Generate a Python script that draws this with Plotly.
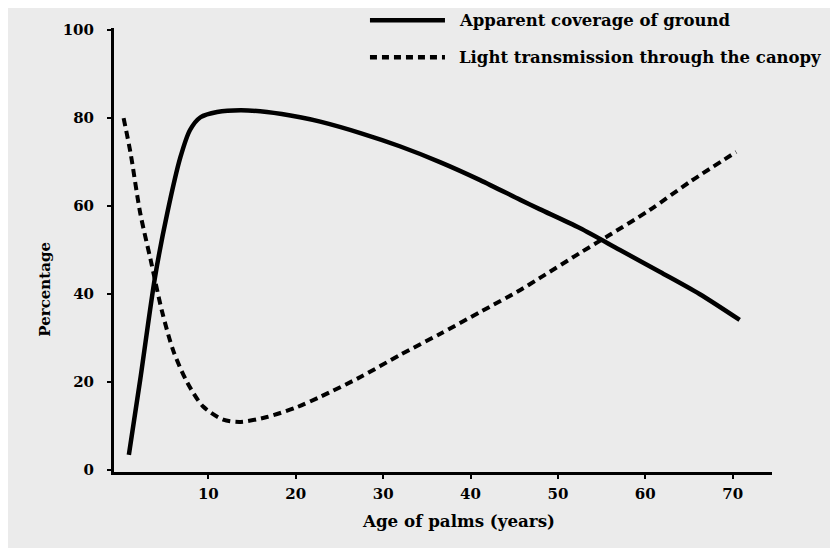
import plotly.graph_objects as go

# Data
coverage_age = [0.9, 2.2, 3.9, 5.3, 6.8, 7.9, 9.1, 11.0, 13.7, 16.7, 20.5, 22.8, 27.4, 31.9,
                36.5, 41.1, 45.7, 47.9, 52.5, 57.1, 61.7, 66.2, 70.8]
coverage = [3.4, 20.5, 43.9, 58.4, 71.1, 77.3, 80.2, 81.4, 81.8, 81.4, 80.2, 79.2, 76.6, 73.6,
            70.0, 65.9, 61.4, 59.3, 55.0, 50.0, 45.0, 40.0, 34.1]

transmission_age = [0.3, 1.1, 2.2, 3.4, 4.7, 6.0, 7.6, 9.4, 11.7, 13.7, 16.7, 20.2, 22.8, 27.4,
                    31.9, 36.5, 41.1, 45.7, 47.9, 52.5, 55.9, 60.5, 65.1, 70.4]
transmission = [80, 72, 58.4, 47.7, 36.0, 27.0, 19.8, 14.4, 11.4, 10.9, 12.0, 14.3, 16.6, 21.1,
                26.1, 30.9, 35.9, 40.9, 43.6, 49.3, 53.4, 59.1, 65.5, 72.3]

x_ticks = [10, 20, 30, 40, 50, 60, 70]
y_ticks = [0, 20, 40, 60, 80, 100]

series_names = ["Apparent coverage of ground", "Light transmission through the canopy"]
x_title = "Age of palms (years)"
y_title = "Percentage"

FONT = "DejaVu Serif"
BG = "#ebebeb"

fig = go.Figure()
fig.add_trace(go.Scatter(x=coverage_age, y=coverage, mode="lines", name=series_names[0],
                         line=dict(color="black", width=4.5, shape="spline", smoothing=0.8),
                         showlegend=False))
fig.add_trace(go.Scatter(x=transmission_age, y=transmission, mode="lines", name=series_names[1],
                         line=dict(color="black", width=4, dash="8px,5px", shape="spline", smoothing=0.8),
                         showlegend=False))

# Manual legend (line samples + labels)
legend_y = [1.0176, 0.934]
dashes = ["solid", "7px,5px"]
for yy, d, name in zip(legend_y, dashes, series_names):
    fig.add_shape(type="line", xref="paper", yref="paper", x0=0.389, x1=0.503, y0=yy, y1=yy,
                  line=dict(color="black", width=4.5, dash=d))
    fig.add_annotation(xref="paper", yref="paper", x=0.521, y=yy, text=name, showarrow=False,
                       xanchor="left", yanchor="middle",
                       font=dict(family=FONT, size=16.5, color="black", weight="bold"))

# axis titles placed as in the reference
fig.add_annotation(xref="paper", yref="paper", x=0.524, y=-0.11, text=x_title, showarrow=False,
                   xanchor="center", yanchor="middle",
                   font=dict(family=FONT, size=16.7, color="black", weight="bold"))
fig.add_annotation(xref="paper", yref="paper", x=-0.104, y=0.412, text=y_title, showarrow=False,
                   xanchor="center", yanchor="middle", textangle=-90,
                   font=dict(family=FONT, size=15, color="black", weight="bold"))

fig.update_layout(
    width=838, height=548,
    margin=dict(l=105.5, r=73.6, t=19.8, b=83.8, autoexpand=False),
    paper_bgcolor=BG, plot_bgcolor=BG,
    font=dict(family=FONT, color="black"),
    xaxis=dict(range=[-0.8, 74.5], tickvals=x_ticks, ticks="outside", ticklen=4, tickwidth=2,
               tickcolor="black", showline=True, linecolor="black", linewidth=3, showgrid=False,
               zeroline=False, ticklabelstandoff=2, automargin=False,
               tickfont=dict(family=FONT, size=15, color="black", weight="bold")),
    yaxis=dict(range=[-0.5, 100.5], tickvals=y_ticks, ticks="outside", ticklen=4, tickwidth=2,
               tickcolor="black", showline=True, linecolor="black", linewidth=3, showgrid=False,
               zeroline=False, ticklabelstandoff=10, automargin=False,
               tickfont=dict(family=FONT, size=15, color="black", weight="bold")),
)

fig.write_html("out.html")
